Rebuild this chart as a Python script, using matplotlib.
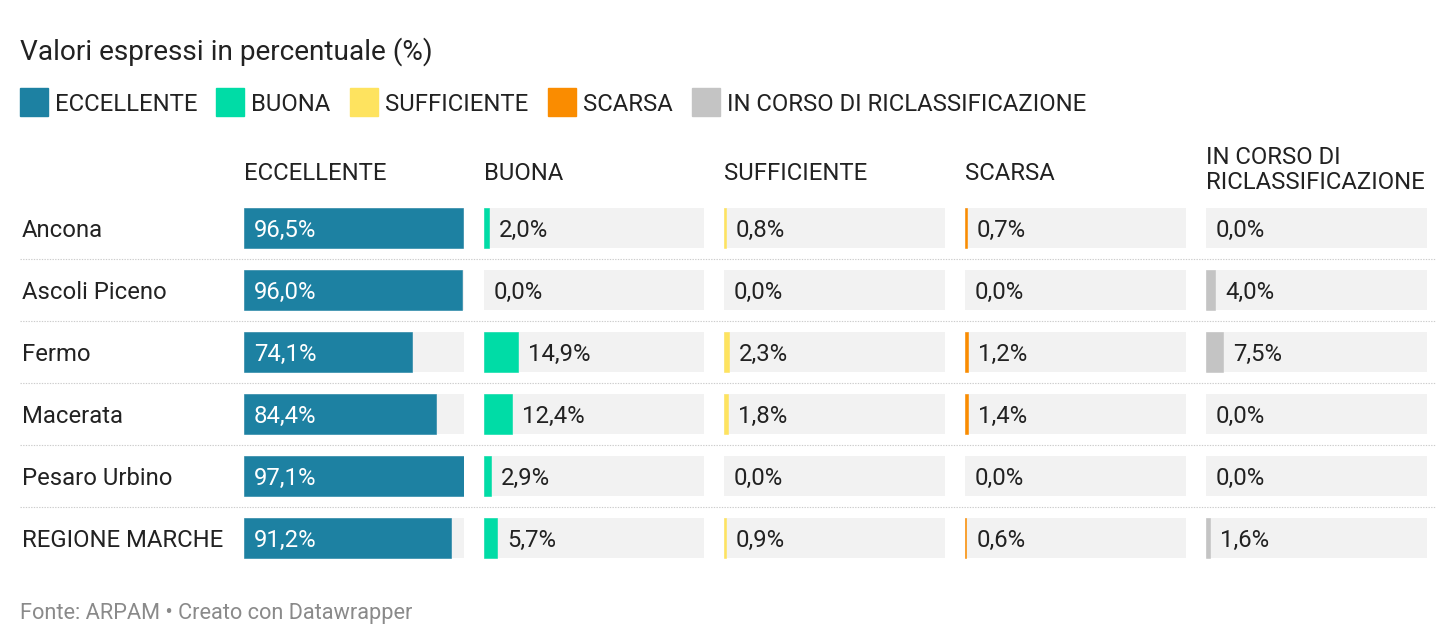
import matplotlib
matplotlib.use('Agg')
import matplotlib.pyplot as plt
from matplotlib.lines import Line2D
from matplotlib.patches import Rectangle

plt.rcParams['font.family'] = ['Roboto', 'DejaVu Sans']

# Dati (valori in percentuale)
province = ['Ancona', 'Ascoli Piceno', 'Fermo', 'Macerata', 'Pesaro Urbino', 'REGIONE MARCHE']
categorie = ['ECCELLENTE', 'BUONA', 'SUFFICIENTE', 'SCARSA', 'IN CORSO DI RICLASSIFICAZIONE']
intestazioni = ['ECCELLENTE', 'BUONA', 'SUFFICIENTE', 'SCARSA', 'IN CORSO DI\nRICLASSIFICAZIONE']
eccellente = [96.5, 96.0, 74.1, 84.4, 97.1, 91.2]
buona = [2.0, 0.0, 14.9, 12.4, 2.9, 5.7]
sufficiente = [0.8, 0.0, 2.3, 1.8, 0.0, 0.9]
scarsa = [0.7, 0.0, 1.2, 1.4, 0.0, 0.6]
in_corso = [0.0, 4.0, 7.5, 0.0, 0.0, 1.6]
colori = ['#1d81a2', '#00dca6', '#fee35f', '#fa8c00', '#c4c4c4']

serie = [eccellente, buona, sufficiente, scarsa, in_corso]
max_val = max(max(s) for s in serie)

W, H = 1456, 644
fig = plt.figure(figsize=(W / 100, H / 100), dpi=100)
fig.patch.set_facecolor('white')

TXT = '#222222'
FS = 17.2
VA = 'center_baseline'

def fx(px):
  return px / W

def fy(py):
  return 1 - py / H

def fmt(v):
  return ('%.1f' % v).replace('.', ',') + '%'

# Titolo
fig.text(fx(20), fy(48), 'Valori espressi in percentuale (%)', fontsize=20.2,
         color=TXT, va=VA, ha='left')

# Legenda
leg_x = [20, 216, 350, 548, 692]
for x, cat, col in zip(leg_x, categorie, colori):
  fig.add_artist(Rectangle((fx(x), fy(116)), fx(28), 28 / H, color=col,
                           transform=fig.transFigure))
  fig.text(fx(x + 35), fy(102), cat, fontsize=FS, color=TXT, va=VA, ha='left')

# Pannelli
row_top, row_h = 197, 62
n = len(province)
panel_x = [244, 484, 724, 965, 1206]
panel_w = 220.5

for i, (x0, vals, col, head) in enumerate(zip(panel_x, serie, colori, intestazioni)):
  ax = fig.add_axes([fx(x0), fy(row_top + row_h * n), fx(panel_w), row_h * n / H])
  ypos = list(range(n))
  ax.barh(ypos, [max_val] * n, height=40 / row_h, color='#f2f2f2', zorder=1)
  # solo le barre con valore > 0 (il bordo rende visibili quelle sottili)
  nz = [(y, v) for y, v in zip(ypos, vals) if v > 0]
  ax.barh([y for y, _ in nz], [v for _, v in nz], height=40 / row_h, color=col,
          edgecolor=col, linewidth=0.4, zorder=2)
  ax.set_xlim(0, max_val)
  ax.set_ylim(n - 0.5, -0.5)
  ax.axis('off')
  for y, v in zip(ypos, vals):
    if i == 0:
      ax.annotate(fmt(v), (0, y), xytext=(7.2, 0), textcoords='offset points',
                  color='white', fontsize=FS, va=VA, ha='left', zorder=3)
    else:
      ax.annotate(fmt(v), (v, y), xytext=(7.2, 0), textcoords='offset points',
                  color=TXT, fontsize=FS, va=VA, ha='left', zorder=3)
  if '\n' in head:
    fig.text(fx(x0), fy(170), head, fontsize=FS, color=TXT, va='center',
             ha='left', linespacing=1.15)
  else:
    fig.text(fx(x0), fy(171), head, fontsize=FS, color=TXT, va=VA, ha='left')

# Etichette righe e separatori
for j, p in enumerate(province):
  yc = row_top + row_h * j + 31
  fig.text(fx(22), fy(yc), p, fontsize=FS, color=TXT, va=VA, ha='left')
  if j < n - 1:
    ys = row_top + row_h * (j + 1)
    fig.add_artist(Line2D([fx(20), fx(1436)], [fy(ys), fy(ys)], color='#cccccc',
                          linewidth=0.8, linestyle=(0, (1.2, 1.2)),
                          transform=fig.transFigure))

# Fonte
fig.text(fx(20), fy(611), 'Fonte: ARPAM \u2022 Creato con Datawrapper', fontsize=15.7,
         color='#8a8a8a', va=VA, ha='left')

fig.savefig('out.png', dpi=100)
